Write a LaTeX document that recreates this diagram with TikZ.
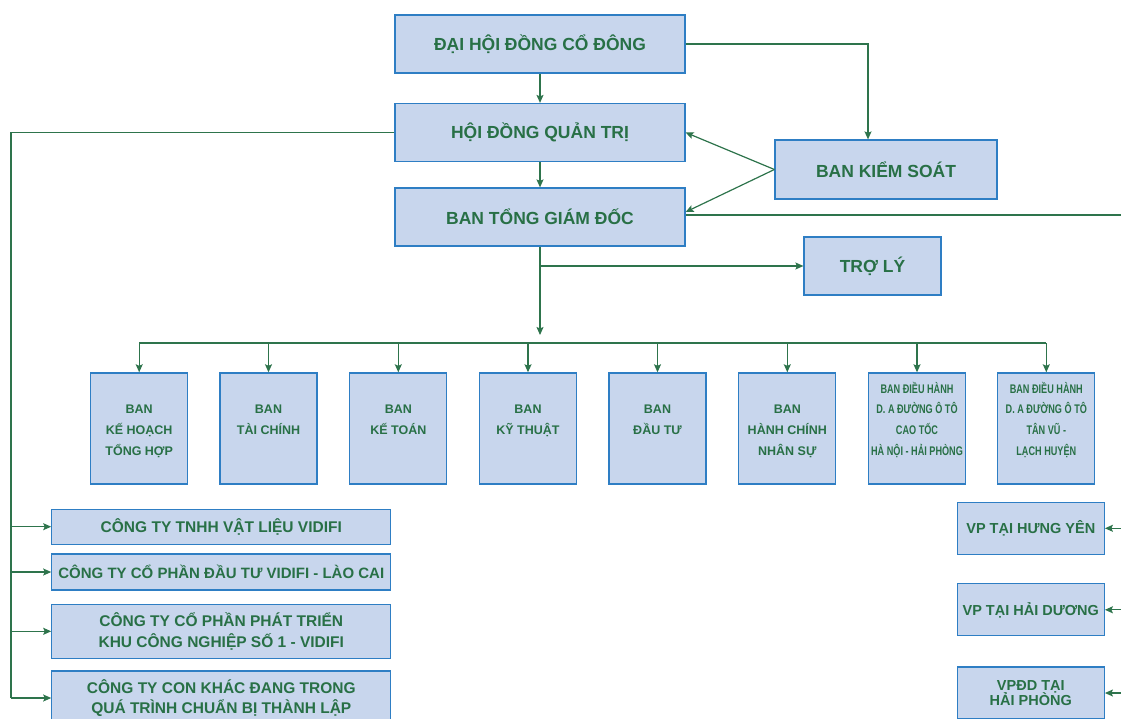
\documentclass[tikz,border=0pt]{standalone}
\usepackage{fontspec}
\setmainfont{Liberation Sans}
\newfontfamily\narrowsans{Liberation Sans}[FakeStretch=0.73]
\usepackage{tikz}
\usetikzlibrary{arrows.meta, positioning, calc}
\definecolor{boxfill}{RGB}{200,214,237}
\definecolor{boxline}{RGB}{46,126,196}
\definecolor{txtgreen}{RGB}{40,112,70}
\definecolor{linkgreen}{RGB}{46,116,76}

\begin{document}
\begin{tikzpicture}[x=1pt, y=-1pt,
  box/.style={rectangle, draw=boxline, fill=boxfill, line width=1.2pt,
              inner sep=0pt, text=txtgreen, align=center,
              font=\bfseries\fontsize{17.5}{21}\selectfont},
  mainbox/.style={box, minimum width=290pt, minimum height=58pt},
  deptbox/.style={box, minimum width=97pt, minimum height=111pt,
              text width=97pt, align=flush center,
              font=\bfseries\fontsize{12.5}{20.7}\selectfont,
              execute at begin node={\rule{0pt}{18.5pt}}, execute at end node=\strut},
  projbox/.style={deptbox, font=\narrowsans\bfseries\fontsize{12.5}{20.7}\selectfont},
  compbox/.style={box, minimum width=339pt,
              font=\bfseries\fontsize{15.5}{20.7}\selectfont},
  officebox/.style={box, minimum width=147pt, minimum height=52pt,
              font=\bfseries\fontsize{14.5}{15.7}\selectfont},
  link/.style={draw=linkgreen, line width=1.2pt},
  arr/.style={link, -{Stealth[length=8pt, width=7pt, inset=1.5pt]}},
]
\clip (0,0) rectangle (1121,718);

% top levels
\node[mainbox] (dhdcd) at (540,44)    {ĐẠI HỘI ĐỒNG CỔ ĐÔNG};
\node[mainbox] (hdqt)  at (540,132.5) {HỘI ĐỒNG QUẢN TRỊ};
\node[mainbox] (btgd)  at (540,217)   {BAN TỔNG GIÁM ĐỐC};
\node[box, minimum width=222pt, minimum height=59pt] (bks) at (886,169.5) {BAN KIỂM SOÁT};
\node[box, minimum width=137pt, minimum height=58pt] (troly) at (872.5,266) {TRỢ LÝ};

\draw[arr] (dhdcd) -- (hdqt);
\draw[arr] (hdqt) -- (btgd);
\draw[arr] (dhdcd.east) -| ([xshift=-18pt]bks.north);
\draw[arr] (bks.west) -- (hdqt.east);
\draw[arr] (bks.west) -- ([yshift=5pt]btgd.east);
\draw[arr] (btgd.south |- troly.west) -- (troly.west);

% departments
\node[deptbox] (kh)  at (139.2,428.4)  {BAN\\KẾ HOẠCH\\TỔNG HỢP};
\node[deptbox] (tc)  at (268.5,428.4)  {BAN\\TÀI CHÍNH\\};
\node[deptbox] (kt)  at (398.3,428.4)  {BAN\\KẾ TOÁN\\};
\node[deptbox] (kth) at (528,428.4)    {BAN\\KỸ THUẬT\\};
\node[deptbox] (dt)  at (657.5,428.4)  {BAN\\ĐẦU TƯ\\};
\node[deptbox] (hc)  at (787.3,428.4)  {BAN\\HÀNH CHÍNH\\NHÂN SỰ};
\node[projbox] (hnhp) at (917,428.4)   {BAN ĐIỀU HÀNH\\D. A ĐƯỜNG Ô TÔ\\CAO TỐC\\HÀ NỘI - HẢI PHÒNG\\};
\node[projbox] (tvlh) at (1046.3,428.4) {BAN ĐIỀU HÀNH\\D. A ĐƯỜNG Ô TÔ\\TÂN VŨ -\\LẠCH HUYỆN\\};

\coordinate (bus) at (540,343);
\coordinate (busin) at (540,335);
\draw[arr] (btgd) -- (busin);
\draw[link] (kh |- bus) -- (tvlh |- bus);
\draw[arr] (kh |- bus) -- (kh);
\draw[arr] (tc |- bus) -- (tc);
\draw[arr] (kt |- bus) -- (kt);
\draw[arr] (kth |- bus) -- (kth);
\draw[arr] (dt |- bus) -- (dt);
\draw[arr] (hc |- bus) -- (hc);
\draw[arr] (hnhp |- bus) -- (hnhp);
\draw[arr] (tvlh |- bus) -- (tvlh);

% subsidiaries
\node[compbox, minimum height=35pt] (vl)  at (221.3,526.7) {CÔNG TY TNHH VẬT LIỆU VIDIFI};
\node[compbox, minimum height=36pt, font=\bfseries\fontsize{15}{20.7}\selectfont] (lc) at (221.3,572)
  {CÔNG TY CỔ PHẦN ĐẦU TƯ VIDIFI - LÀO CAI};
\node[compbox, minimum height=54pt] (kcn) at (221.3,631.3) {CÔNG TY CỔ PHẦN PHÁT TRIỂN\\KHU CÔNG NGHIỆP SỐ 1 - VIDIFI};
\node[compbox, minimum height=54pt] (ctk) at (221.3,698)   {CÔNG TY CON KHÁC ĐANG TRONG\\QUÁ TRÌNH CHUẨN BỊ THÀNH LẬP};

\coordinate (lbus) at (11,132.5);
\draw[link] (hdqt.west) -- (lbus) -- (lbus |- ctk.west);
\draw[arr] (lbus |- vl.west) -- (vl.west);
\draw[arr] (lbus |- lc.west) -- (lc.west);
\draw[arr] (lbus |- kcn.west) -- (kcn.west);
\draw[arr] (lbus |- ctk.west) -- (ctk.west);

% offices
\node[officebox] (hy) at (1030.8,528.3) {VP TẠI HƯNG YÊN};
\node[officebox] (hd) at (1030.8,609.8) {VP TẠI HẢI DƯƠNG};
\node[officebox] (hp) at (1030.8,693)   {VPĐD TẠI\\HẢI PHÒNG};

\coordinate (redge) at (1121,215);
\draw[link] (redge) -- (redge -| btgd.east);
\draw[arr] (hy.east -| redge) -- (hy.east);
\draw[arr] (hd.east -| redge) -- (hd.east);
\draw[arr] (hp.east -| redge) -- (hp.east);
\end{tikzpicture}
\end{document}
